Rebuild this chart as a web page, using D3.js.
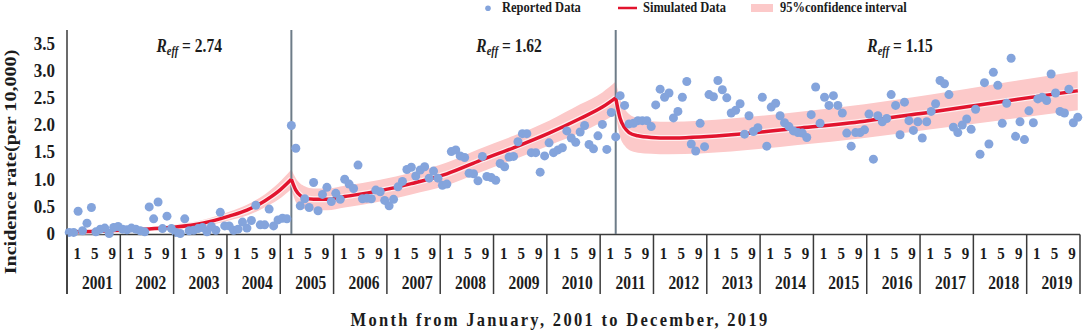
<!DOCTYPE html>
<html>
<head>
<meta charset="utf-8">
<script src="https://cdn.jsdelivr.net/npm/d3@7"></script>
<style>
  body { margin: 0; background: #fff; }
  text { font-family: "Liberation Serif", "Times New Roman", serif; font-weight: bold; fill: #1c1c1c; }
</style>
</head>
<body>
<div id="chart"></div>
<script>
// monthly reported incidence, Jan 2001 .. Dec 2019 (one row per year)
var reported = [
  0.02, 0.02, 0.41, 0.05, 0.19, 0.48, 0.03, 0.08, 0.10, 0.00, 0.11, 0.13,
  0.08, 0.07, 0.10, 0.08, 0.05, 0.03, 0.49, 0.27, 0.58, 0.09, 0.32, 0.09,
  0.02, 0.00, 0.27, 0.05, 0.06, 0.09, 0.11, 0.03, 0.13, 0.06, 0.39, 0.14,
  0.14, 0.06, 0.08, 0.21, 0.10, 0.24, 0.52, 0.16, 0.16, 0.45, 0.14, 0.25,
  0.28, 0.27, 1.99, 1.57, 0.51, 0.64, 0.48, 0.94, 0.42, 0.72, 0.85, 0.59,
  0.74, 0.63, 1.00, 0.91, 0.83, 1.26, 0.64, 0.65, 0.64, 0.80, 0.77, 0.61,
  0.51, 0.63, 0.86, 0.96, 1.18, 1.22, 1.06, 1.17, 1.23, 1.02, 1.15, 1.02,
  0.89, 0.91, 1.51, 1.54, 1.43, 1.40, 1.11, 1.10, 0.97, 1.42, 1.05, 1.03,
  0.98, 1.29, 1.23, 1.41, 1.42, 1.69, 1.84, 1.84, 1.49, 1.49, 1.13, 1.43,
  1.67, 1.49, 1.54, 1.58, 1.89, 1.76, 1.68, 1.87, 1.99, 1.64, 1.56, 1.80,
  2.01, 1.55, 2.23, 1.78, 2.54, 2.36, 2.02, 2.03, 2.08, 2.08, 2.08, 1.97,
  2.37, 2.66, 2.51, 2.59, 2.13, 2.25, 2.51, 2.80, 1.65, 1.52, 2.03, 1.60,
  2.56, 2.52, 2.82, 2.65, 2.50, 2.22, 2.27, 2.39, 1.83, 2.17, 1.88, 1.95,
  2.51, 1.61, 2.33, 2.40, 2.17, 2.04, 1.97, 1.89, 1.86, 1.85, 1.77, 2.19,
  2.70, 2.03, 2.51, 2.36, 2.54, 2.36, 2.22, 1.85, 1.61, 1.86, 1.86, 1.91,
  2.20, 1.37, 2.17, 2.06, 2.12, 2.56, 2.36, 1.82, 2.42, 2.08, 1.90, 2.06,
  1.76, 2.06, 2.25, 2.39, 2.82, 2.76, 2.56, 1.96, 1.86, 2.00, 2.11, 1.92,
  2.29, 1.46, 2.78, 1.65, 2.97, 2.73, 2.03, 2.40, 3.23, 1.79, 2.06, 1.73,
  2.26, 2.04, 2.48, 2.51, 2.45, 2.94, 2.59, 2.25, 2.22, 2.66, 2.04, 2.14
]

// simulated curve read at these month indices (0 = Jan 2001)
var simMonth = [0, 6, 12, 18, 24, 30, 36, 40, 44, 47, 50,
                51, 52, 53, 55, 58, 62, 70, 77, 85, 92, 100, 108, 115, 120, 123,
                124, 125, 126, 128, 131, 135, 149, 164, 179, 194, 209, 227]
var simValue = [0.03, 0.04, 0.06, 0.085, 0.12, 0.19, 0.32, 0.43, 0.60, 0.77, 1.00,
                0.80, 0.70, 0.66, 0.63, 0.63, 0.68, 0.79, 0.92, 1.10, 1.33, 1.58, 1.85, 2.12, 2.33, 2.50,
                2.12, 1.95, 1.86, 1.80, 1.77, 1.76, 1.82, 1.94, 2.07, 2.24, 2.42, 2.63]
var ciLower = [0.01, 0.02, 0.03, 0.05, 0.07, 0.13, 0.24, 0.33, 0.48, 0.62, 0.82,
               0.58, 0.49, 0.45, 0.43, 0.43, 0.48, 0.59, 0.72, 0.89, 1.11, 1.36, 1.62, 1.86, 2.06, 2.20,
               1.78, 1.62, 1.54, 1.49, 1.47, 1.46, 1.51, 1.63, 1.76, 1.92, 2.08, 2.27]
var ciUpper = [0.05, 0.06, 0.09, 0.12, 0.17, 0.25, 0.40, 0.53, 0.72, 0.92, 1.18,
               1.02, 0.92, 0.87, 0.83, 0.83, 0.88, 0.99, 1.12, 1.31, 1.55, 1.80, 2.08, 2.38, 2.60, 2.80,
               2.47, 2.30, 2.20, 2.12, 2.07, 2.06, 2.12, 2.24, 2.38, 2.56, 2.76, 2.99]

var changePoints = [50, 123]          // month index of the two breaks
var reffValues = ["2.74", "1.62", "1.15"]
var reffMonth = [27, 99, 187]

var years = ["2001","2002","2003","2004","2005","2006","2007","2008","2009","2010",
             "2011","2012","2013","2014","2015","2016","2017","2018","2019"]
var monthLabels = ["1", "5", "9"]
var yTicks = [0, 0.5, 1.0, 1.5, 2.0, 2.5, 3.0, 3.5]

var W = 1084, H = 331
var SY = 1.15   // the original figure is stretched a little vertically

var svg = d3.select("#chart").append("svg").attr("width", W).attr("height", H)

var x = d3.scaleLinear().domain([-0.5, reported.length - 0.5]).range([67, 1080])
var y = d3.scaleLinear().domain([0, 3.75]).range([233.5, 30])
var yearX = d3.scaleBand().domain(years).range([67, 1080])

function stretchText(sel, px, py) {
  return sel.attr("transform", "translate(" + px + "," + py + ") scale(1," + SY + ")")
}

// split knots into the three segments
var knots = simMonth.map(function(m, i) { return {m: m, v: simValue[i], lo: ciLower[i], hi: ciUpper[i]} })
var bounds = [0].concat(changePoints).concat([reported.length - 1])
var segments = []
for (var s = 0; s < bounds.length - 1; s++) {
  segments.push(knots.filter(function(k) { return k.m >= bounds[s] && k.m <= bounds[s + 1] }))
}

// confidence band
var band = d3.area().curve(d3.curveMonotoneX)
  .x(function(d) { return x(d.m) })
  .y0(function(d) { return y(d.lo) })
  .y1(function(d) { return y(d.hi) })
svg.append("g").selectAll("path").data(segments).enter().append("path")
  .attr("d", band).attr("fill", "#fcc9c9")

// axis lines
svg.append("line").attr("x1", 67).attr("x2", 67).attr("y1", 30).attr("y2", 294)
  .attr("stroke", "#3a3a3a").attr("stroke-width", 1.5)
svg.append("line").attr("x1", 67).attr("x2", 1080).attr("y1", 234.5).attr("y2", 234.5)
  .attr("stroke", "#3a3a3a").attr("stroke-width", 1.5)

// change point lines
svg.append("g").selectAll("line").data(changePoints).enter().append("line")
  .attr("x1", function(d) { return x(d) }).attr("x2", function(d) { return x(d) })
  .attr("y1", 30).attr("y2", 234)
  .attr("stroke", "#6d7c88").attr("stroke-width", 2)

// simulated line with light halo
var simLine = d3.line().curve(d3.curveMonotoneX)
  .x(function(d) { return x(d.m) })
  .y(function(d) { return y(d.v) })
svg.append("g").selectAll("path").data(segments).enter().append("path")
  .attr("d", simLine).attr("fill", "none")
  .attr("stroke", "#fff").attr("stroke-opacity", 0.7).attr("stroke-width", 6)
svg.append("g").selectAll("path").data(segments).enter().append("path")
  .attr("d", simLine).attr("fill", "none")
  .attr("stroke", "#e2142e").attr("stroke-width", 3.5).attr("stroke-linejoin", "round")

// reported points
svg.append("g").selectAll("circle").data(reported).enter().append("circle")
  .attr("cx", function(d, i) { return x(i) })
  .attr("cy", function(d) { return y(d) })
  .attr("r", 4.5)
  .attr("fill", "#84a4dc")

// y axis labels
var yAxis = svg.append("g").attr("transform", "translate(67,0)")
  .call(d3.axisLeft(y).tickValues(yTicks).tickSize(0).tickPadding(12)
    .tickFormat(function(d) { return d === 0 ? "0" : d3.format(".1f")(d) }))
yAxis.select(".domain").remove()
yAxis.selectAll(".tick text")
  .attr("font-size", 17).attr("font-family", null).attr("fill", null)
  .attr("transform", "scale(1," + SY + ")")
  .attr("y", 0).attr("dy", "0.3em")

// year separators and labels
var xAx = svg.append("g")
xAx.selectAll("line.sep").data(years.concat(["end"])).enter().append("line")
  .attr("x1", function(d, i) { return i < years.length ? yearX(d) : 1080 })
  .attr("x2", function(d, i) { return i < years.length ? yearX(d) : 1080 })
  .attr("y1", 234.5).attr("y2", 294)
  .attr("stroke", "#3a3a3a").attr("stroke-width", 1.5)

var monthFrac = [0.19, 0.52, 0.85]
years.forEach(function(yr) {
  monthLabels.forEach(function(m, j) {
    stretchText(xAx.append("text"), yearX(yr) + yearX.bandwidth() * monthFrac[j], 258.5)
      .attr("text-anchor", "middle").attr("font-size", 15).text(m)
  })
  stretchText(xAx.append("text"), yearX(yr) + yearX.bandwidth() * 0.57, 288.5)
    .attr("text-anchor", "middle").attr("font-size", 15.5).text(yr)
})

// axis titles
stretchText(svg.append("text"), 560, 326)
  .attr("text-anchor", "middle").attr("font-size", 16.5).attr("letter-spacing", 2.3)
  .text("Month from January, 2001 to December, 2019")
svg.append("text")
  .attr("transform", "translate(16,162) scale(1," + SY + ") rotate(-90)")
  .attr("text-anchor", "middle").attr("font-size", 17.5)
  .text("Incidence rate(per 10,000)")

// R_eff annotations
reffValues.forEach(function(r, i) {
  var t = stretchText(svg.append("text"), x(reffMonth[i]), 51.5).attr("text-anchor", "middle").attr("font-size", 15.5)
  t.append("tspan").attr("font-style", "italic").text("R")
  t.append("tspan").attr("font-style", "italic").attr("font-size", 10.5).attr("dy", 3).text("eff")
  t.append("tspan").attr("dy", -3).text(" = " + r)
})

// legend
var leg = svg.append("g")
leg.append("circle").attr("cx", 488).attr("cy", 8.3).attr("r", 2.8).attr("fill", "#84a4dc")
stretchText(leg.append("text"), 502, 11.5).attr("font-size", 12.5).text("Reported Data")
leg.append("line").attr("x1", 618).attr("x2", 637).attr("y1", 8).attr("y2", 8)
  .attr("stroke", "#e2142e").attr("stroke-width", 2.5)
stretchText(leg.append("text"), 643, 11.5).attr("font-size", 12.5).text("Simulated Data")
leg.append("rect").attr("x", 751).attr("y", 4).attr("width", 22).attr("height", 8).attr("fill", "#fcc9c9")
stretchText(leg.append("text"), 780, 11.5).attr("font-size", 12.5).text("95%confidence interval")
</script>
</body>
</html>
